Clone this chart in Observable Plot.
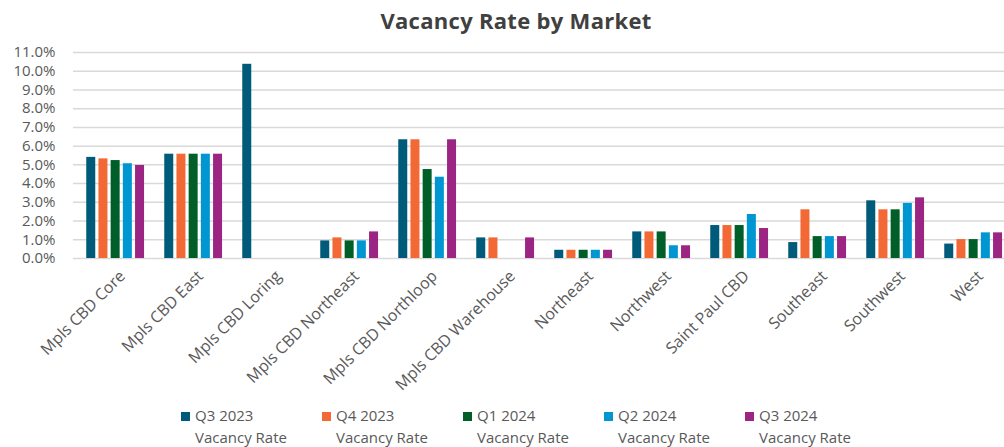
<!DOCTYPE html>
<html>
<head>
<meta charset="utf-8">
<script src="https://cdn.jsdelivr.net/npm/d3@7"></script>
<script src="https://cdn.jsdelivr.net/npm/@observablehq/plot@0.6"></script>
<style>
  body { margin: 0; background: #fff; }
  #wrap { position: relative; width: 1004px; height: 447px; overflow: hidden; font-family: "Open Sans", sans-serif; }
  #title { position: absolute; left: 0; width: 1032px; top: 5px; text-align: center; font-size: 22px; font-weight: 700; color: #404040; letter-spacing: 0.3px; }
  #chart { position: absolute; left: 0; top: 0; }
  #legend { position: absolute; left: 181px; top: 404px; display: flex; }
  .item { width: 141px; font-size: 15px; color: #595959; line-height: 22px; }
  .sw { display: inline-block; width: 9px; height: 9px; margin-right: 5px; vertical-align: 0px; }
  .l2 { padding-left: 14px; }
</style>
</head>
<body>
<div id="wrap">
  <div id="chart"></div>
  <div id="title">Vacancy Rate by Market</div>
  <div id="legend"></div>
</div>
<script>
const markets = ["Mpls CBD Core","Mpls CBD East","Mpls CBD Loring","Mpls CBD Northeast","Mpls CBD Northloop","Mpls CBD Warehouse","Northeast","Northwest","Saint Paul CBD","Southeast","Southwest","West"];
const seriesNames = ["Q3 2023","Q4 2023","Q1 2024","Q2 2024","Q3 2024"];
const q3_2023 = [5.40, 5.57, 10.37, 0.94, 6.34, 1.10, 0.44, 1.42, 1.76, 0.85, 3.08, 0.77];
const q4_2023 = [5.32, 5.57, null, 1.10, 6.34, 1.10, 0.44, 1.42, 1.76, 2.60, 2.60, 1.01];
const q1_2024 = [5.23, 5.57, null, 0.94, 4.75, null, 0.44, 1.42, 1.76, 1.17, 2.60, 1.01];
const q2_2024 = [5.06, 5.57, null, 0.94, 4.34, null, 0.44, 0.68, 2.35, 1.17, 2.94, 1.37];
const q3_2024 = [4.97, 5.57, null, 1.42, 6.34, 1.10, 0.44, 0.68, 1.60, 1.17, 3.24, 1.37];
const yTicks = [0,1,2,3,4,5,6,7,8,9,10,11];
const colors = ["#005a7a", "#f26935", "#005f29", "#0096d1", "#9c2584"];
const seriesValues = [q3_2023, q4_2023, q1_2024, q2_2024, q3_2024];

// layout of bars inside each market band
const bandStep = 78.5, groupPad = 10.25, barStep = 12.2, barW = 9.5;

const barMarks = seriesValues.map((vals, i) => {
  const data = markets.map((m, j) => ({market: m, value: vals[j]})).filter(d => d.value != null);
  const left = groupPad + i * barStep;
  return Plot.barY(data, {
    x: "market", y: "value", fill: colors[i],
    insetLeft: left, insetRight: bandStep - left - barW
  });
});

const chart = Plot.plot({
  width: 1004,
  height: 400,
  marginTop: 52,
  marginBottom: 142,
  marginLeft: 73,
  marginRight: 0,
  style: {fontFamily: "Open Sans, sans-serif", fontSize: "15px", color: "#595959", background: "transparent"},
  x: {type: "band", domain: markets, range: [73, 1015], padding: 0, axis: null},
  y: {domain: [0, 11], axis: null},
  marks: [
    Plot.gridY(yTicks, {stroke: "#d9d9d9", strokeOpacity: 1, strokeWidth: 1.5}),
    ...barMarks,
    Plot.axisY(yTicks, {tickSize: 0, tickPadding: 18, tickFormat: d => d.toFixed(1) + "%", fill: "#595959", fontSize: 15, label: null}),
    Plot.axisX({tickRotate: -45, tickSize: 0, tickPadding: 15, dx: 7, fill: "#595959", fontSize: 16, label: null})
  ]
});
document.getElementById("chart").appendChild(chart);

const legend = document.getElementById("legend");
seriesNames.forEach((s, i) => {
  const it = document.createElement("div");
  it.className = "item";
  it.innerHTML = `<div><span class="sw" style="background:${colors[i]}"></span>${s}</div><div class="l2">Vacancy Rate</div>`;
  legend.appendChild(it);
});
</script>
</body>
</html>
